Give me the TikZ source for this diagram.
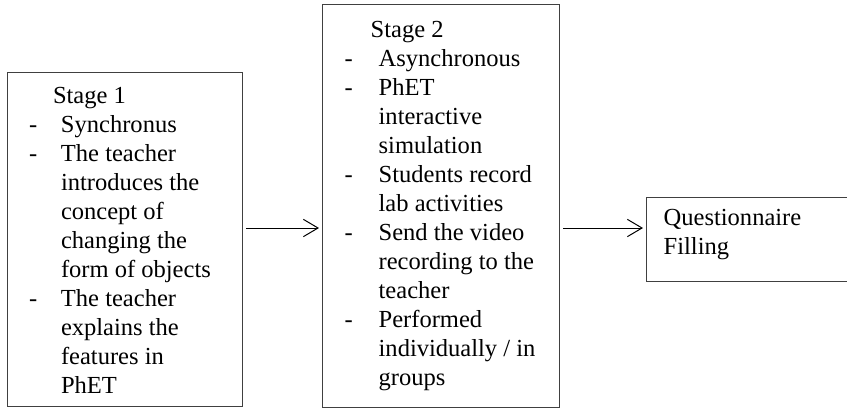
\documentclass[tikz,border=0pt]{standalone}
\usepackage{fontspec}
\setmainfont{Liberation Serif}
\usepackage{array}
\usetikzlibrary{arrows.meta}

\begin{document}
\begin{tikzpicture}[x=0.75pt,y=-0.75pt,
    stagebox/.style={draw=black!75,line width=1pt,anchor=north west,inner sep=0pt,
      font=\rmfamily\fontsize{18.4}{21.75}\selectfont},
    flow/.style={-{Straight Barb[length=11pt,width=13pt]},line width=0.75pt,
      shorten <=2.25pt,shorten >=2.25pt}]
  \useasboundingbox (0,0) rectangle (847,408);
  \node[stagebox,minimum width=176.25pt,text height=23.25pt,text depth=227.25pt]
  (stage1) at (7,72)
  {\begin{tabular}[t]{@{\hspace{16pt}}p{24pt}@{}p{136.25pt}@{}}
      \multicolumn{2}{@{\hspace{34pt}}l}{Stage 1}\\
      - & Synchronus\\
      - & The teacher\\
        & introduces the\\
        & concept of\\
        & changing the\\
        & form of objects\\
      - & The teacher\\
        & explains the\\
        & features in\\
        & PhET
    \end{tabular}};
  \node[stagebox,minimum width=177.75pt,text height=24.75pt,text depth=277.5pt]
  (stage2) at (322,4)
  {\begin{tabular}[t]{@{\hspace{16.5pt}}p{25.5pt}@{}p{135.75pt}@{}}
      \multicolumn{2}{@{\hspace{36pt}}l}{Stage 2}\\
      - & Asynchronous\\
      - & PhET\\
        & interactive\\
        & simulation\\
      - & Students record\\
        & lab activities\\
      - & Send the video\\
        & recording to the\\
        & teacher\\
      - & Performed\\
        & individually / in\\
        & groups
    \end{tabular}};
  \node[stagebox,minimum width=153.75pt,text height=21pt,text depth=42pt]
  (survey) at (646,197)
  {\begin{tabular}[t]{@{\hspace{12.75pt}}p{141pt}@{}}
      Questionnaire\\
      Filling
    \end{tabular}};
  \coordinate (flowrow) at (0,228);
  \draw[flow] (stage1.east |- flowrow) -- (stage2.west |- flowrow);
  \draw[flow] (stage2.east |- flowrow) -- (survey.west |- flowrow);
\end{tikzpicture}
\end{document}
